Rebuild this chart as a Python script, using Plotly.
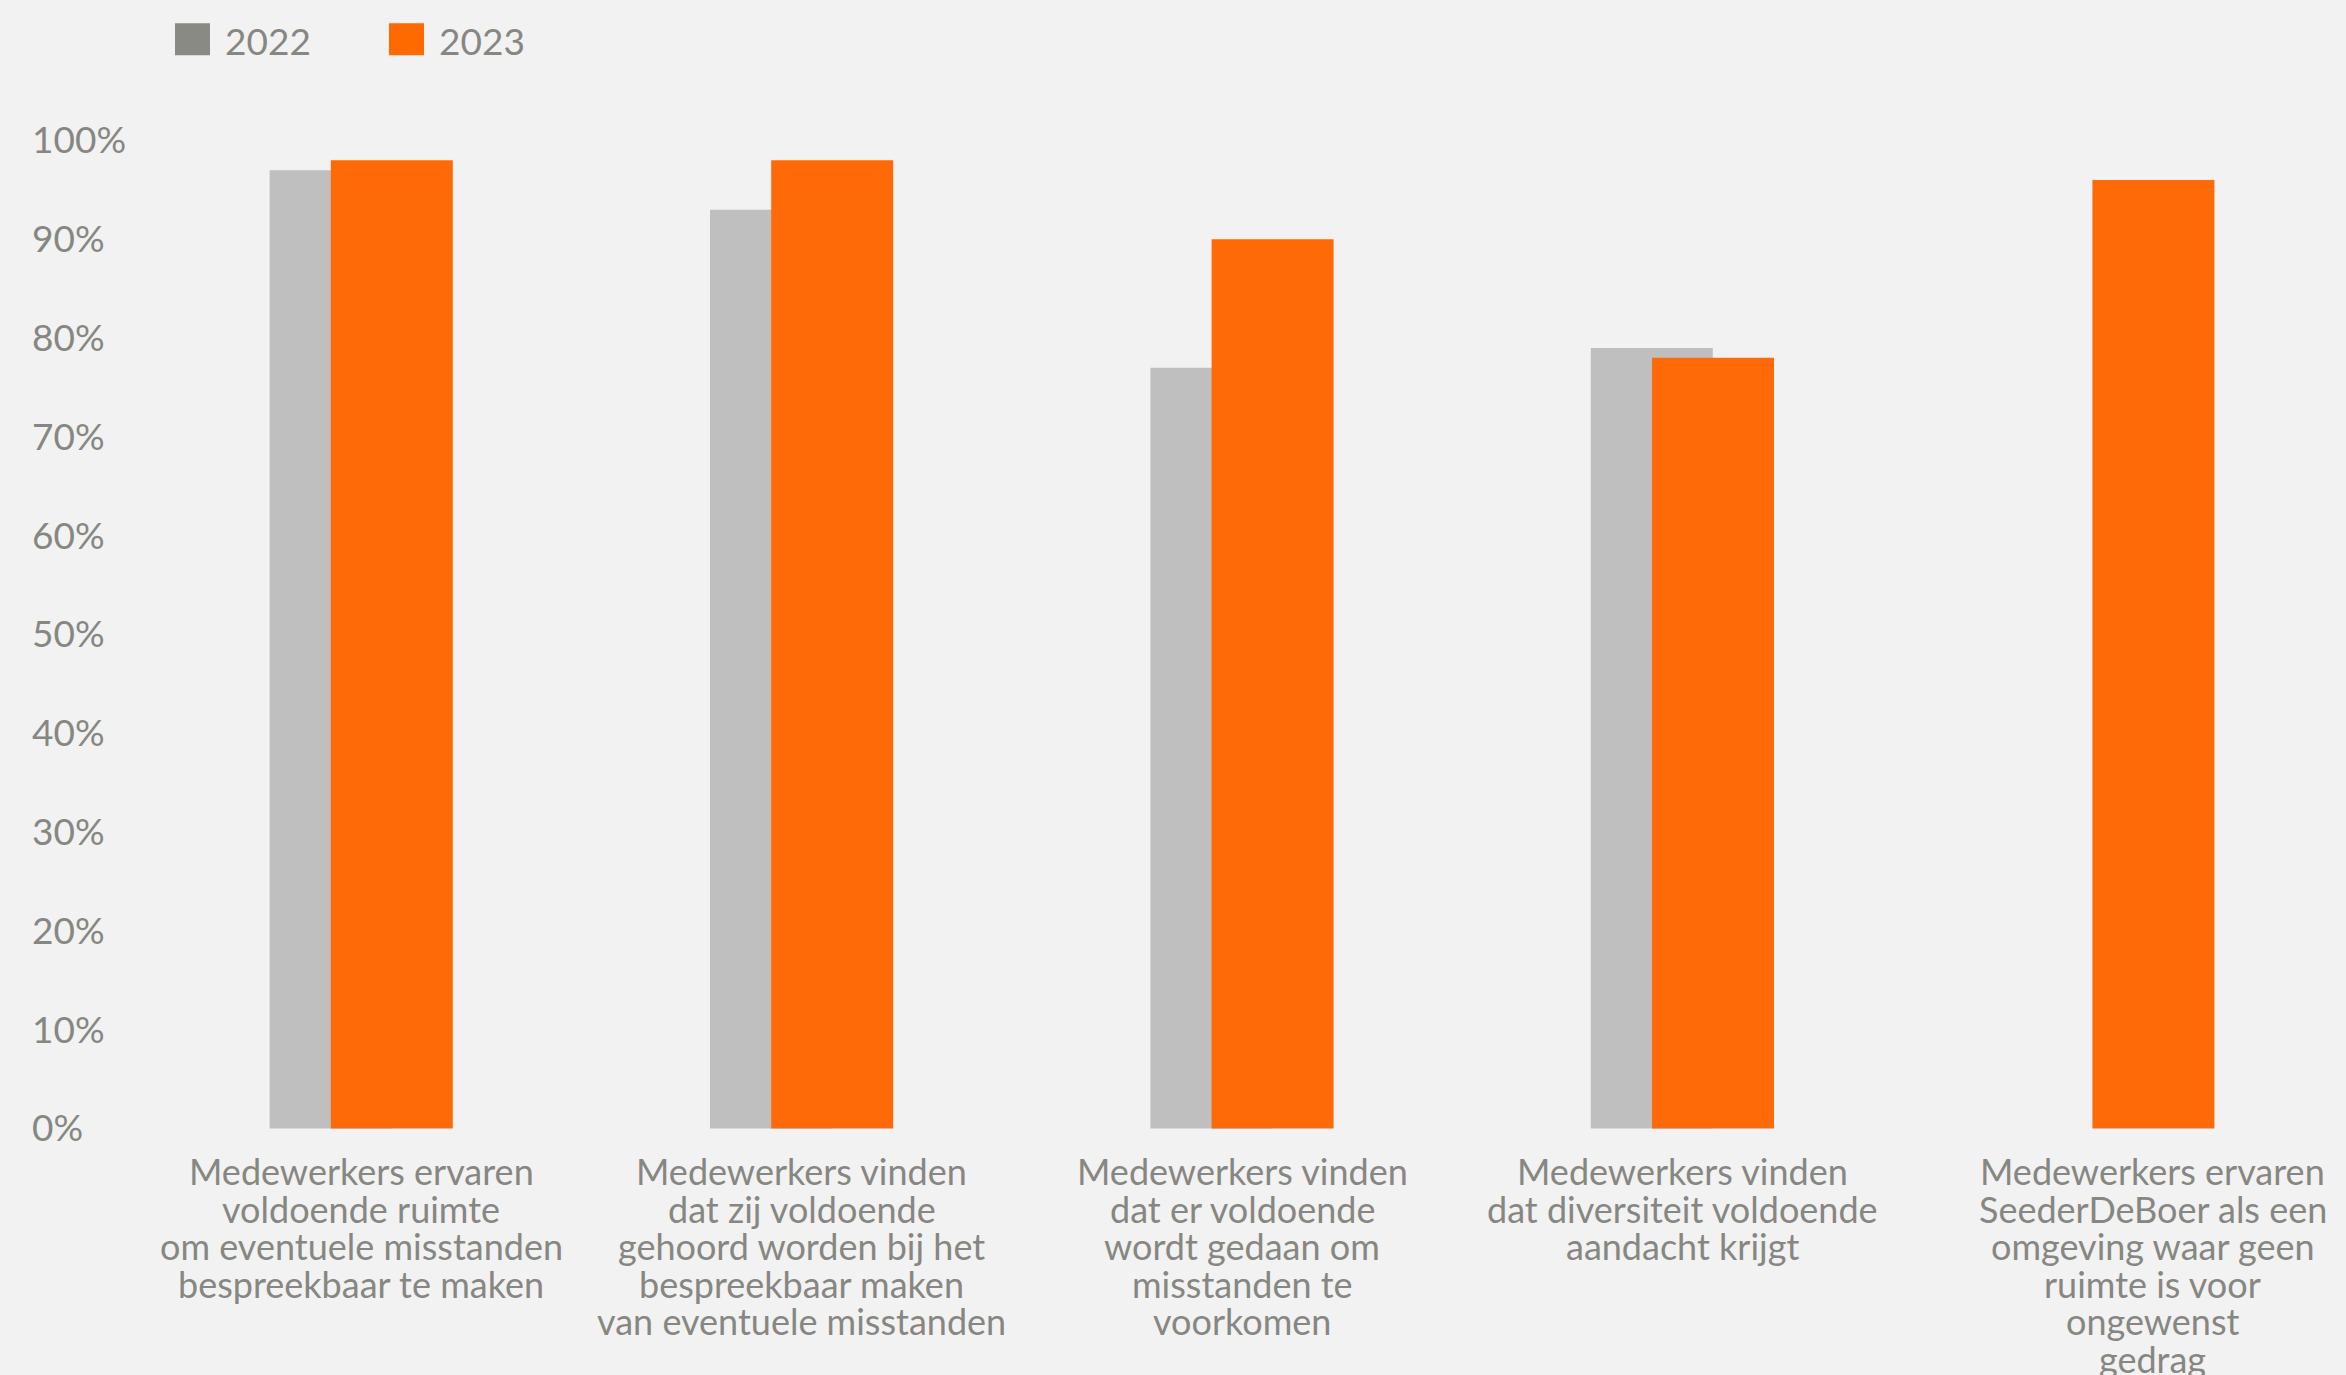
import plotly.graph_objects as go

# ---- data ----
categories = [
    ["Medewerkers ervaren", "voldoende ruimte", "om eventuele misstanden", "bespreekbaar te maken"],
    ["Medewerkers vinden", "dat zij voldoende", "gehoord worden bij het", "bespreekbaar maken", "van eventuele misstanden"],
    ["Medewerkers vinden", "dat er voldoende", "wordt gedaan om", "misstanden te", "voorkomen"],
    ["Medewerkers vinden", "dat diversiteit voldoende", "aandacht krijgt"],
    ["Medewerkers ervaren", "SeederDeBoer als een", "omgeving waar geen", "ruimte is voor", "ongewenst", "gedrag"],
]
values_2022 = [97, 93, 77, 79, None]
values_2023 = [98, 98, 90, 78, 96]
series_names = ["2022", "2023"]
y_ticks = [0, 10, 20, 30, 40, 50, 60, 70, 80, 90, 100]

# ---- style ----
W, H = 2346, 1375
Y0_PX = 1128            # pixel row of 0%
PX_PER_PCT = 9.878
Y_MIN, Y_MAX = -4, 104
ML, MR = 28, 3
MB = H - (Y0_PX - Y_MIN * PX_PER_PCT)
PH = (Y_MAX - Y_MIN) * PX_PER_PCT
MT = H - MB - PH
PW = W - ML - MR
BG = "#f2f2f2"
TXT = "#878782"
BAR_2022 = "#bfbfbf"
BAR_2023 = "#ff6a08"
LEG_2022 = "#8a8a85"
LEG_2023 = "#ff6a00"
FONT = "Lato, 'Open Sans', sans-serif"

x_left_px = 141
dom0 = (x_left_px - ML) / PW

def px_x(px):
    return (px - ML) / PW

def px_y(py):
    return (H - MB - py) / PH

xs = list(range(len(categories)))
bw = 0.277

fig = go.Figure()
fig.add_trace(go.Bar(x=xs, y=values_2022, name=series_names[0], marker_color=BAR_2022,
                     marker_line_width=0, width=bw, offset=-0.208, showlegend=False))
fig.add_trace(go.Bar(x=xs, y=values_2023, name=series_names[1], marker_color=BAR_2023,
                     marker_line_width=0, width=bw, offset=-0.069, showlegend=False))

annotations = []
line_gap = 37.4
first_line_py = 1171
for i, lines in enumerate(categories):
    xshift = 30 if i == len(categories) - 1 else 0
    for j, ln in enumerate(lines):
        annotations.append(dict(
            x=i, xref="x", y=px_y(first_line_py + j * line_gap), yref="paper",
            text=ln, showarrow=False, xanchor="center", yanchor="middle",
            xshift=xshift, borderpad=0,
            font=dict(family=FONT, size=36, color=TXT)))

# legend (drawn manually to match large square swatches)
shapes = []
legend_items = [(series_names[0], LEG_2022, 175, 223), (series_names[1], LEG_2023, 389, 437)]
for name, col, sx, tx in legend_items:
    shapes.append(dict(type="rect", xref="paper", yref="paper",
                       x0=px_x(sx), x1=px_x(sx + 35), y0=px_y(55), y1=px_y(23),
                       fillcolor=col, line_width=0, layer="above"))
    annotations.append(dict(x=px_x(tx), xref="paper", y=px_y(40), yref="paper",
                            text=name, showarrow=False, xanchor="left", yanchor="middle",
                            font=dict(family=FONT, size=37, color=TXT)))

fig.update_layout(
    width=W, height=H,
    margin=dict(l=ML, r=MR, t=MT, b=MB, pad=0),
    paper_bgcolor=BG, plot_bgcolor=BG,
    barmode="overlay",
    showlegend=False,
    xaxis=dict(domain=[dom0, 1], range=[-0.5, 4.5], showticklabels=False,
               showgrid=False, zeroline=False, showline=False, ticks=""),
    yaxis=dict(range=[Y_MIN, Y_MAX], tickvals=y_ticks, ticktext=[f"{v}%" for v in y_ticks],
               anchor="free", position=0, ticklabelposition="inside", ticks="",
               showgrid=False, zeroline=False, showline=False,
               tickfont=dict(family=FONT, size=37, color=TXT)),
    annotations=annotations,
    shapes=shapes,
)

fig.write_html("out.html", config={"displayModeBar": False},
               post_script="document.body.style.margin='0px';document.body.style.overflow='hidden';")
